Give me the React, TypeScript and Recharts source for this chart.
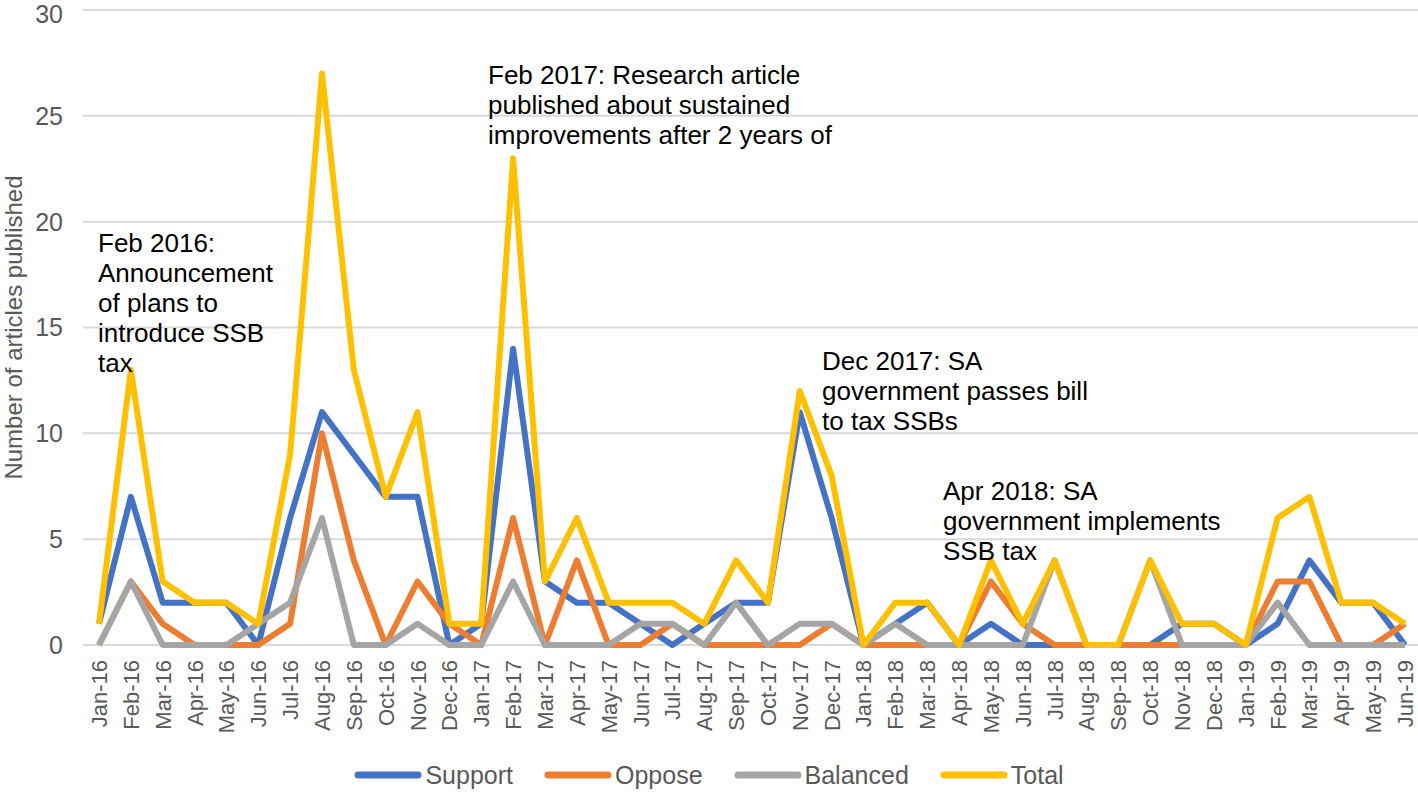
import { LineChart, Line, XAxis, YAxis, CartesianGrid, Legend } from 'recharts';

const months = [
  'Jan-16', 'Feb-16', 'Mar-16', 'Apr-16', 'May-16', 'Jun-16', 'Jul-16', 'Aug-16', 'Sep-16', 'Oct-16', 'Nov-16', 'Dec-16',
  'Jan-17', 'Feb-17', 'Mar-17', 'Apr-17', 'May-17', 'Jun-17', 'Jul-17', 'Aug-17', 'Sep-17', 'Oct-17', 'Nov-17', 'Dec-17',
  'Jan-18', 'Feb-18', 'Mar-18', 'Apr-18', 'May-18', 'Jun-18', 'Jul-18', 'Aug-18', 'Sep-18', 'Oct-18', 'Nov-18', 'Dec-18',
  'Jan-19', 'Feb-19', 'Mar-19', 'Apr-19', 'May-19', 'Jun-19',
];

const support = [1, 7, 2, 2, 2, 0, 6, 11, 9, 7, 7, 0, 1, 14, 3, 2, 2, 1, 0, 1, 2, 2, 11, 6, 0, 1, 2, 0, 1, 0, 0, 0, 0, 0, 1, 1, 0, 1, 4, 2, 2, 0];
const oppose = [0, 3, 1, 0, 0, 0, 1, 10, 4, 0, 3, 1, 0, 6, 0, 4, 0, 0, 1, 0, 0, 0, 0, 1, 0, 0, 0, 0, 3, 1, 0, 0, 0, 0, 0, 0, 0, 3, 3, 0, 0, 1];
const balanced = [0, 3, 0, 0, 0, 1, 2, 6, 0, 0, 1, 0, 0, 3, 0, 0, 0, 1, 1, 0, 2, 0, 1, 1, 0, 1, 0, 0, 0, 0, 4, 0, 0, 4, 0, 0, 0, 2, 0, 0, 0, 0];
const total = [1, 13, 3, 2, 2, 1, 9, 27, 13, 7, 11, 1, 1, 23, 3, 6, 2, 2, 2, 1, 4, 2, 12, 8, 0, 2, 2, 0, 4, 1, 4, 0, 0, 4, 1, 1, 0, 6, 7, 2, 2, 1];

const yTicks = [0, 5, 10, 15, 20, 25, 30];

const series = [
  { key: 'Support', color: '#4472C4' },
  { key: 'Oppose', color: '#ED7D31' },
  { key: 'Balanced', color: '#A5A5A5' },
  { key: 'Total', color: '#FFC000' },
];

// baseline of first line for each note
const annotations = [
  { x: 98, y: 252, lines: ['Feb 2016:', 'Announcement', 'of plans to', 'introduce SSB', 'tax'] },
  { x: 488, y: 84, lines: ['Feb 2017: Research article', 'published about sustained', 'improvements after 2 years of'] },
  { x: 822, y: 370, lines: ['Dec 2017: SA', 'government passes bill', 'to tax SSBs'] },
  { x: 943, y: 500, lines: ['Apr 2018: SA', 'government implements', 'SSB tax'] },
];

const data = months.map((m, i) => ({
  month: m,
  Support: support[i],
  Oppose: oppose[i],
  Balanced: balanced[i],
  Total: total[i],
}));

const FONT = '"Liberation Sans", Arial, sans-serif';

function MonthTick({ x, y, payload }: any) {
  return (
    <text
      x={0}
      y={0}
      transform={`translate(${x + 8},${y + 7}) rotate(-90)`}
      textAnchor="end"
      fill="#595959"
      fontSize={22}
      fontFamily={FONT}
    >
      {payload.value}
    </text>
  );
}

function YLabel(props: any) {
  const vb = props.viewBox || {};
  const cy = vb.height ? vb.y + vb.height / 2 : 328;
  return (
    <text
      transform={`translate(22,${cy}) rotate(-90)`}
      textAnchor="middle"
      fill="#595959"
      fontSize={24}
      fontFamily={FONT}
    >
      Number of articles published
    </text>
  );
}

function LegendBox() {
  return (
    <div style={{ display: 'flex', justifyContent: 'center', alignItems: 'center', fontFamily: FONT, fontSize: 25, color: '#595959', height: 30 }}>
      {series.map((s, i) => (
        <div key={s.key} style={{ display: 'flex', alignItems: 'center', marginLeft: i === 0 ? 0 : 31 }}>
          <svg width={68} height={10} style={{ marginRight: 3 }}>
            <line x1={4} y1={5} x2={64} y2={5} stroke={s.color} strokeWidth={7} strokeLinecap="round" />
          </svg>
          <span>{s.key}</span>
        </div>
      ))}
    </div>
  );
}

export default function App() {
  return (
    <div style={{ position: 'relative', width: 1418, height: 792 }}>
      <style>{'body{margin:0}'}</style>
      <LineChart width={1418} height={792} data={data} margin={{ top: 10, right: 0, bottom: 0, left: 0 }}>
        <CartesianGrid vertical={false} stroke="#d9d9d9" strokeWidth={2} />
        <XAxis
          dataKey="month"
          interval={0}
          axisLine={false}
          tickLine={false}
          height={115}
          tick={<MonthTick />}
          padding={{ left: 16, right: 13 }}
        />
        <YAxis
          domain={[0, 30]}
          ticks={yTicks}
          width={83}
          axisLine={false}
          tickLine={false}
          tick={{ fill: '#595959', fontSize: 25, fontFamily: FONT }}
          tickMargin={14}
          label={<YLabel />}
        />
        <Legend verticalAlign="bottom" height={32} content={<LegendBox />} />
        {series.map((s) => (
          <Line
            key={s.key}
            dataKey={s.key}
            stroke={s.color}
            strokeWidth={6}
            dot={false}
            activeDot={false}
            isAnimationActive={false}
            strokeLinejoin="round"
          />
        ))}
      </LineChart>
      <svg width={1418} height={792} style={{ position: 'absolute', left: 0, top: 0, pointerEvents: 'none' }}>
        {annotations.map((a, i) => (
          <text key={i} x={a.x} y={a.y} fontFamily={FONT} fontSize={26} fill="#000">
            {a.lines.map((l, j) => (
              <tspan key={j} x={a.x} dy={j === 0 ? 0 : 30}>
                {l}
              </tspan>
            ))}
          </text>
        ))}
      </svg>
    </div>
  );
}
